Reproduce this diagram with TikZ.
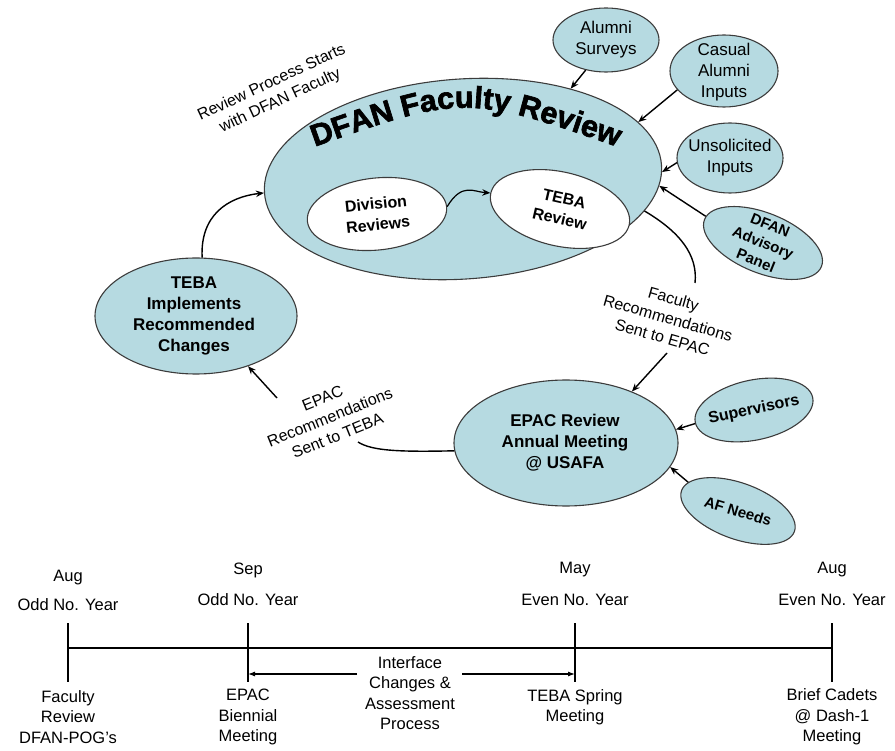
\documentclass[tikz,border=0pt]{standalone}
\usepackage{fontspec}
\setmainfont{Liberation Sans}
\newfontfamily\heavyfont{Liberation Sans Bold}[FakeBold=2.2]
\usetikzlibrary{shapes.geometric,arrows.meta,decorations.text}
\definecolor{fillblue}{RGB}{182,218,225}
\definecolor{edgegray}{RGB}{60,60,60}
\begin{document}
\begin{tikzpicture}[x=1pt,y=-1pt,
  bub/.style={ellipse, draw=edgegray, line width=1.1pt, fill=fillblue, inner sep=0pt},
  wbub/.style={bub, fill=white},
  arr/.style={-{Stealth[length=8pt,width=6.5pt]}, line width=1.4pt, black},
  ln/.style={line width=1.4pt, black},
  reg/.style={font=\fontsize{17}{21}\selectfont, align=center},
  bld/.style={font=\bfseries\fontsize{17}{21}\selectfont, align=center},
  lbl/.style={font=\fontsize{16}{20}\selectfont, align=center},
  tl/.style={font=\fontsize{16.5}{20.5}\selectfont, align=center},
  tline/.style={line width=1.3pt, black},
  tarr/.style={-{Latex[length=7pt,width=5pt]}, line width=1.1pt, black}
]
\useasboundingbox (0,0) rectangle (895,751);

% main bubble
\node[bub, minimum width=398pt, minimum height=200pt, rotate=4] (main) at (463,179) {};
\path[decorate, decoration={text along path, text align=center,
  text={|\heavyfont\fontsize{30.5}{31}\selectfont|DFAN Faculty Review}}]
  (300,152) .. controls (465,93) .. (632,152);

% inner bubbles
\node[wbub, minimum width=140pt, minimum height=72pt, rotate=6] (div) at (377,214) {};
\node[bld, font=\bfseries\fontsize{16}{21}\selectfont, rotate=6] (divt) at (377,214) {Division\\Reviews};
\node[wbub, minimum width=142pt, minimum height=74pt, rotate=-13] (teba) at (560,209) {};
\node[bld, font=\bfseries\fontsize{16}{21}\selectfont, rotate=-13] (tebat) at (562,209) {TEBA\\Review};
\draw[arr, line width=1.2pt] (div.east) .. controls (462,182) and (474,192) .. (teba.west);

% input bubbles
\node[bub, minimum width=106pt, minimum height=64pt] (alumni) at (606,40) {};
\node[reg] (alumnit) at (606,40) {Alumni\\Surveys};
\node[bub, minimum width=108pt, minimum height=72pt] (casual) at (724,71) {};
\node[reg] (casualt) at (724,72) {Casual\\Alumni\\Inputs};
\node[bub, minimum width=106pt, minimum height=70pt] (unsol) at (730,158) {};
\node[reg] (unsolt) at (730,158) {Unsolicited\\Inputs};
\node[bub, minimum width=126pt, minimum height=60pt, rotate=-22] (adv) at (763,243) {};
\node[bld, font=\bfseries\fontsize{15}{19}\selectfont, rotate=-22] (advt) at (763,243) {DFAN\\Advisory\\Panel};

\draw[arr] (alumni.236) -- (main.36);
\draw[arr] (casual.202) -- (main.14);
\draw[arr] (unsol.185) -- (main.-2);
\draw[arr] (adv.177) -- (main.-6);

% EPAC
\node[bub, minimum width=224pt, minimum height=126pt] (epac) at (566,443) {};
\node[bld] (epact) at (565,443) {EPAC Review\\Annual Meeting\\@ USAFA};
\node[bub, minimum width=120pt, minimum height=60pt, rotate=12] (sup) at (754,410) {};
\node[bld, font=\bfseries\fontsize{16}{20}\selectfont, rotate=12] (supt) at (754,410) {Supervisors};
\node[bub, minimum width=120pt, minimum height=56pt, rotate=-20] (af) at (738,511) {};
\node[bld, font=\bfseries\fontsize{15}{19}\selectfont, rotate=-17] (aft) at (738,511) {AF Needs};
\draw[arr] (sup.181) -- (epac.7);
\draw[arr] (af.170) -- (epac.-13);

% TEBA implements
\node[bub, minimum width=202pt, minimum height=116pt] (impl) at (196,316) {};
\node[bld] (implt) at (194,316) {TEBA\\Implements\\Recommended\\Changes};

% flow connectors
\coordinate (fr1) at (695,283);
\coordinate (fr2) at (667,353);
\draw[ln] (main.-14) .. controls (680,232) and (698,255) .. (fr1);
\draw[arr] (fr2) -- (epac.38);
\node[lbl, rotate=-16] (lblfac) at (668,318) {Faculty\\Recommendations\\Sent to EPAC};

\coordinate (er1) at (358,442);
\coordinate (er2) at (277,398);
\draw[ln] (epac.184) .. controls (400,452) and (372,451) .. (er1);
\draw[arr] (er2) -- (impl.-44);
\node[lbl, rotate=22] (lblepac) at (330,417) {EPAC\\Recommendations\\Sent to TEBA};

\draw[arr] (impl.84) .. controls (200,215) and (228,197) .. (main.180);
\node[lbl, rotate=25] (lblstart) at (276,92) {Review Process Starts\\with DFAN Faculty};

% timeline
\coordinate (ta) at (68,648);
\coordinate (tb) at (248,648);
\coordinate (tc) at (575,648);
\coordinate (td) at (832,648);
\draw[tline] (ta) -- (td);
\foreach \p in {ta,tb,tc,td} {
  \draw[tline] ([yshift=25pt]\p) -- ([yshift=-34pt]\p);
}
\node[tl] (m1) at (68,578) {Aug};
\node[tl] (y1) at (68,605) {Odd No. Year};
\node[tl] (m2) at (248,570) {Sep};
\node[tl] (y2) at (248,600) {Odd No. Year};
\node[tl] (m3) at (575,570) {May};
\node[tl] (y3) at (575,600) {Even No. Year};
\node[tl] (m4) at (832,570) {Aug};
\node[tl] (y4) at (832,600) {Even No. Year};

\node[tl] (b1) at (68,717) {Faculty\\Review\\DFAN-POG's};
\node[tl] (b2) at (248,717) {EPAC\\Biennial\\Meeting};
\node[tl] (b3) at (575,707) {TEBA Spring\\Meeting};
\node[tl] (b4) at (832,717) {Brief Cadets\\@ Dash-1\\Meeting};
\node[tl] (iface) at (410,693) {Interface\\Changes \&\\Assessment\\Process};

\coordinate (ial) at (357,674);
\coordinate (iar) at (462,674);
\draw[tarr] (ial) -- ([yshift=-26pt]tb);
\draw[tarr] (iar) -- ([yshift=-26pt]tc);
\end{tikzpicture}
\end{document}
